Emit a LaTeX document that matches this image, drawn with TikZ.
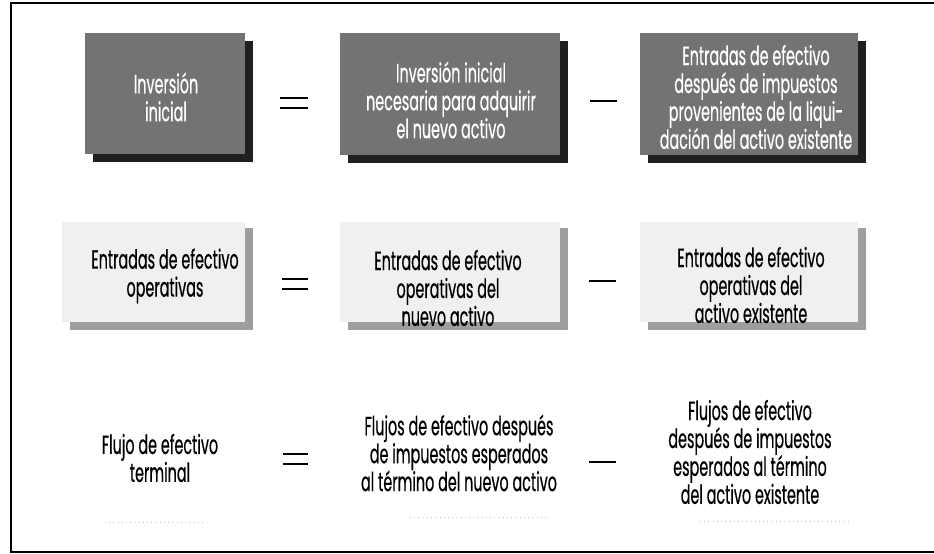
\documentclass[tikz,border=0pt]{standalone}
\usepackage{fontspec}
\setmainfont{Poppins}[FakeStretch=0.545, FakeBold=0.5]
\begin{document}
\begin{tikzpicture}[x=0.02cm,y=-0.02cm,
  lbl/.style={align=center, font=\fontsize{15}{15.9}\selectfont, inner sep=0pt},
  darkbox/.style={fill=black!55},
  darkshadow/.style={fill=black!88},
  lightbox/.style={fill=black!6},
  lightedge/.style={fill=black!38},
  opline/.style={line width=1.1pt},
  frameline/.style={line width=1.3pt},
  faint/.style={black!25, dotted, line width=0.4pt}]
\useasboundingbox (0,0) rectangle (934,554);
% frame
\draw[frameline] (934,3) -- (11,3) -- (11,552) -- (934,552);
% ---------- row 1 ----------
\fill[darkshadow] (93,41) rectangle (253,162);
\fill[darkbox] (85,33) rectangle (245,154);
\fill[darkshadow] (348,41) rectangle (568,163);
\fill[darkbox] (340,33) rectangle (560,155);
\fill[darkshadow] (648,41) rectangle (866,163);
\fill[darkbox] (640,33) rectangle (858,155);
\node[lbl, white] (a1) at (166,97) {Inversión\\inicial};
\node[lbl, white] (a2) at (451,100) {Inversión inicial\\necesaria para adquirir\\el nuevo activo};
\node[lbl, white] (a3) at (756,97) {Entradas de efectivo\\después de impuestos\\provenientes de la liqui-\\dación del activo existente};
\draw[opline] (280,98) -- (308,98) (280,108) -- (308,108);
\draw[opline] (590,101) -- (617,101);
% ---------- row 2 ----------
\fill[lightbox] (62,222) rectangle (245,322);
\fill[lightedge] (245,228) rectangle (253,330);
\fill[lightedge] (70,322) rectangle (253,330);
\fill[lightbox] (340,222) rectangle (560,322);
\fill[lightedge] (560,228) rectangle (568,330);
\fill[lightedge] (348,322) rectangle (568,330);
\fill[lightbox] (640,222) rectangle (858,322);
\fill[lightedge] (858,228) rectangle (866,330);
\fill[lightedge] (648,322) rectangle (866,330);
\node[lbl] (b1) at (165,276) {Entradas de efectivo\\operativas};
\node[lbl] (b2) at (448,288) {Entradas de efectivo\\operativas del\\nuevo activo};
\node[lbl] (b3) at (751,285) {Entradas de efectivo\\operativas del\\activo existente};
\draw[opline] (282,279) -- (308,279) (282,289) -- (308,289);
\draw[opline] (589,281) -- (616,281);
% ---------- row 3 ----------
\node[lbl] (c1) at (160,458) {Flujo de efectivo\\terminal};
\node[lbl] (c2) at (459,453) {Flujos de efectivo después\\de impuestos esperados\\al término del nuevo activo};
\node[lbl] (c3) at (750,452) {Flujos de efectivo\\después de impuestos\\esperados al término\\del activo existente};
\draw[opline] (283,454) -- (308,454) (283,464) -- (308,464);
\draw[opline] (589,462) -- (616,462);
\draw[faint] (105,522) -- (205,522);
\draw[faint] (410,517) -- (547,517);
\draw[faint] (700,521) -- (850,521);
\end{tikzpicture}
\end{document}
